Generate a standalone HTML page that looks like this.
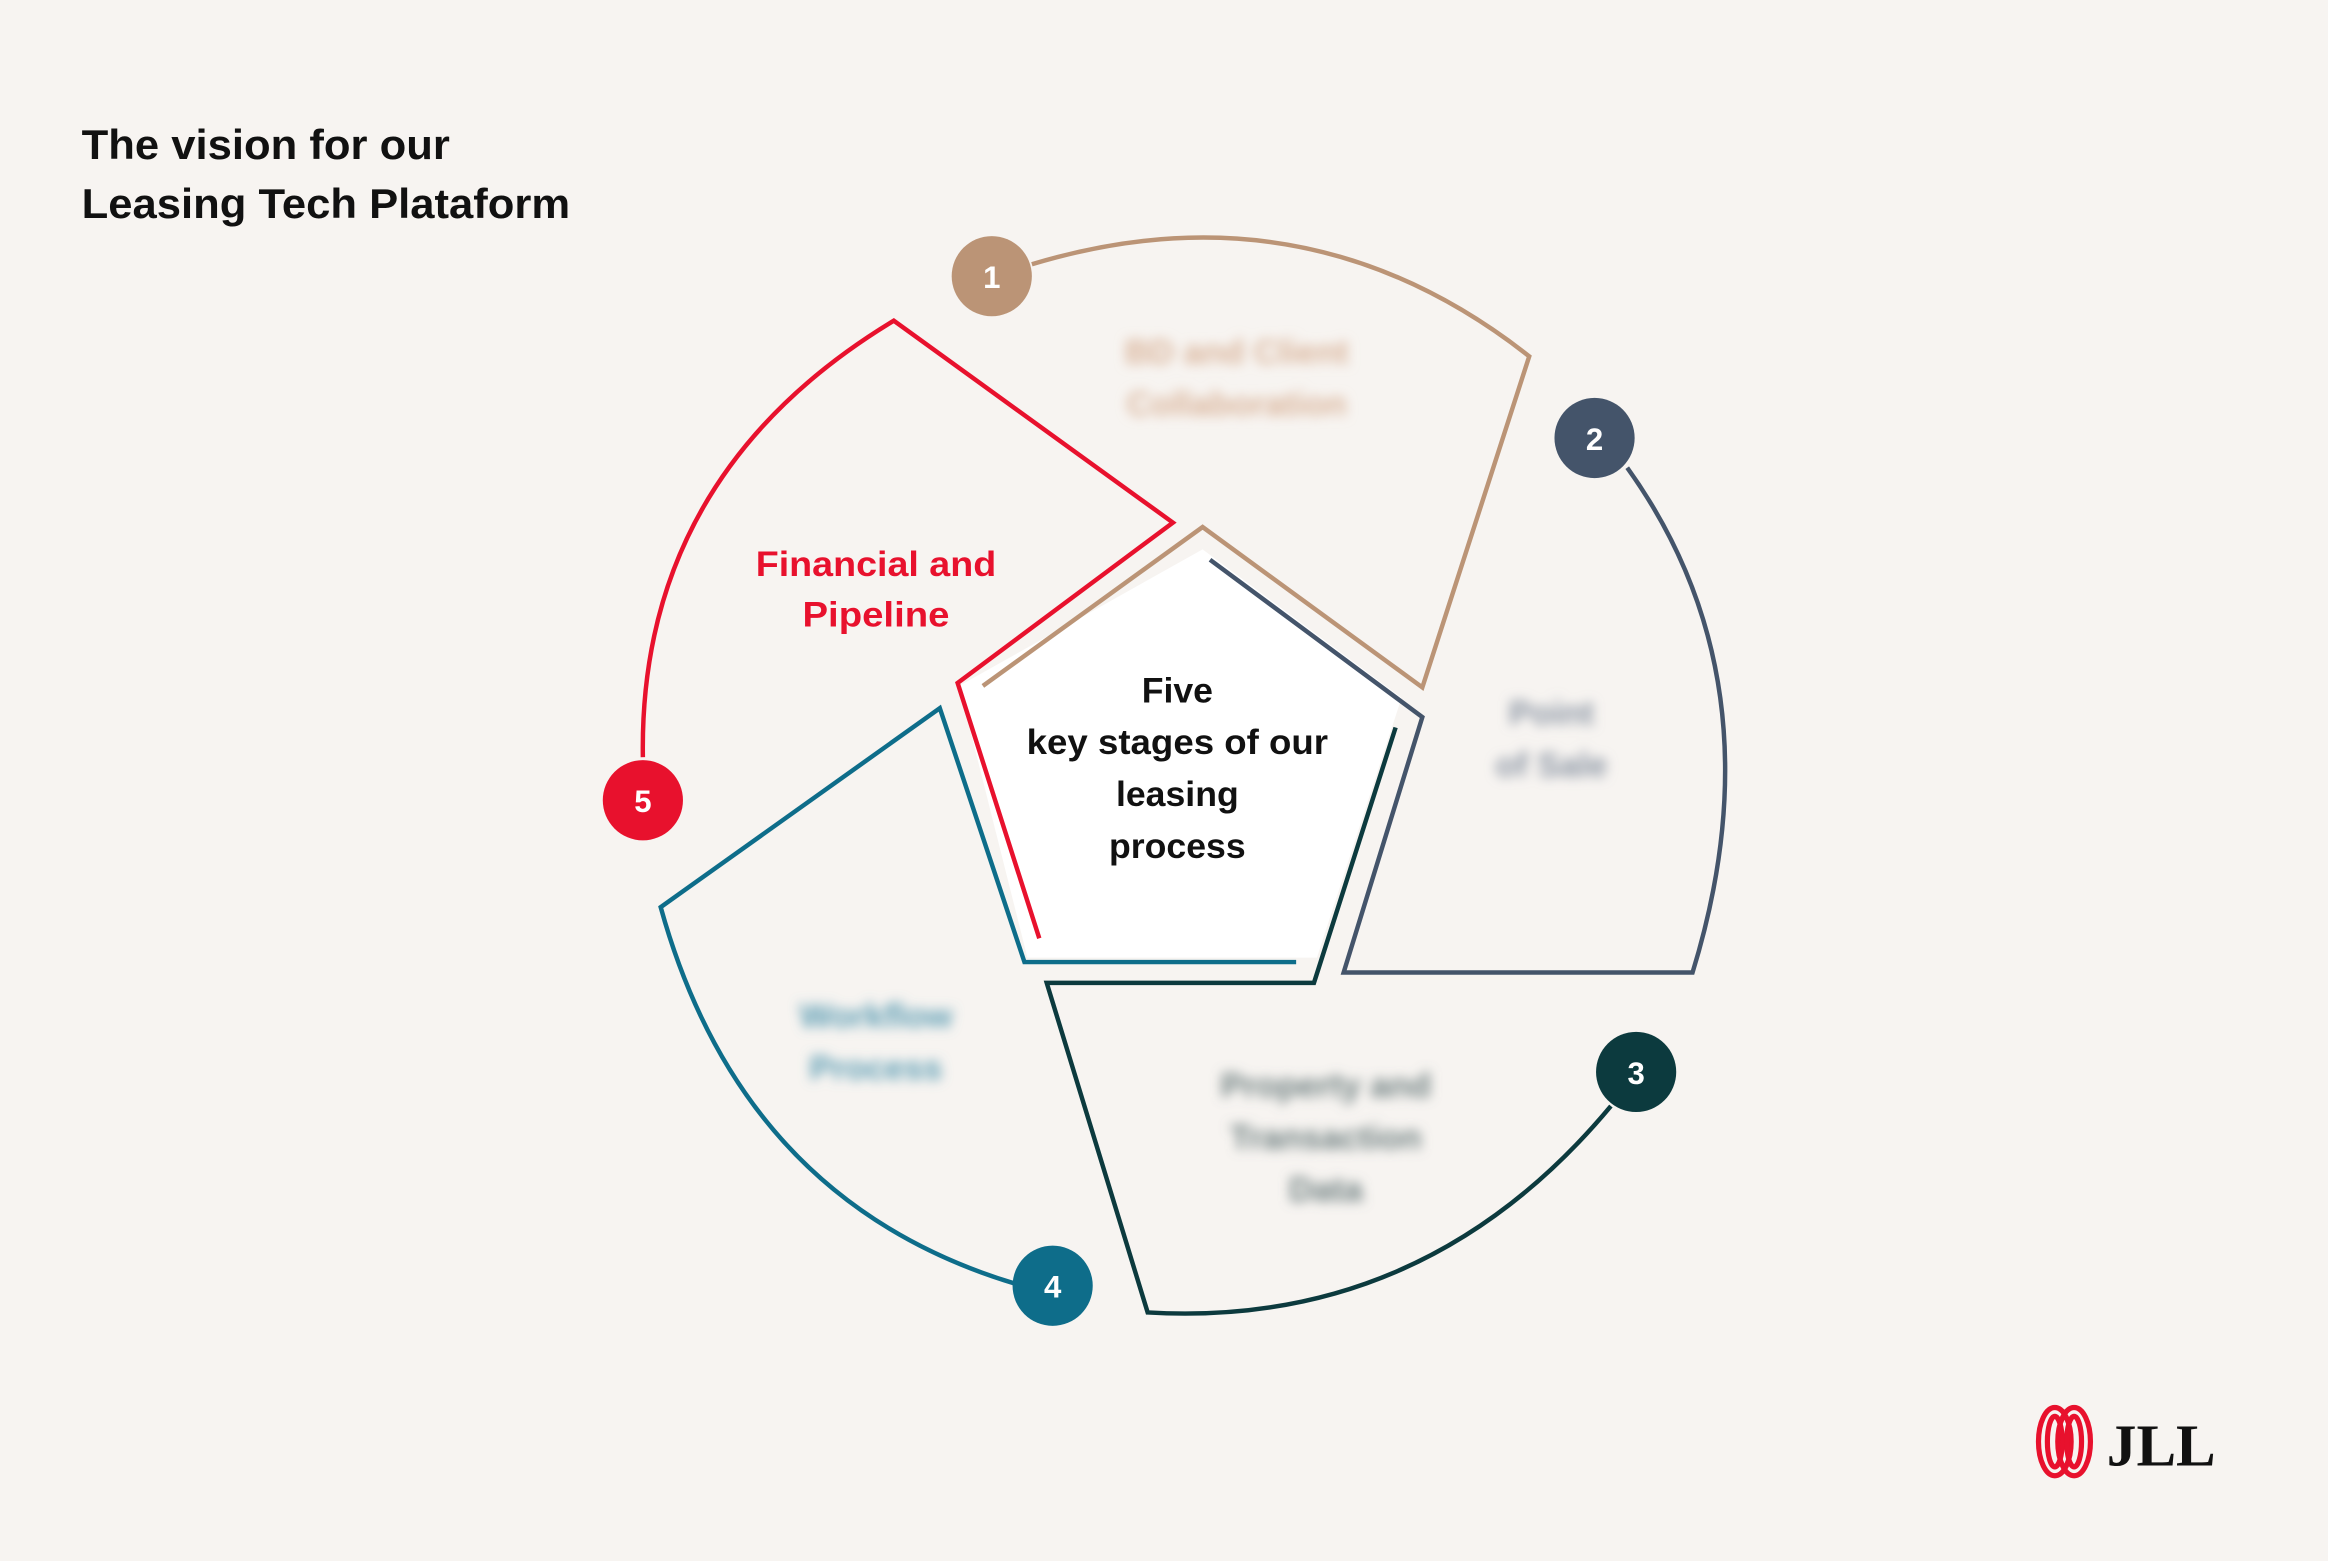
<!DOCTYPE html>
<html><head><meta charset="utf-8"><style>
html,body{margin:0;padding:0;background:#f7f4f1;}
svg{display:block}
text{font-family:"Liberation Sans",sans-serif;font-weight:bold}
</style></head><body>
<svg width="2328" height="1561" viewBox="0 0 1568 1051.4" xmlns="http://www.w3.org/2000/svg">
<defs><filter id="b" x="-20%" y="-50%" width="140%" height="200%"><feGaussianBlur stdDeviation="4"/></filter></defs>
<rect width="1568" height="1052" fill="#f7f4f1"/>
<text x="55" y="107" font-size="28" fill="#111" textLength="248" lengthAdjust="spacingAndGlyphs">The vision for our</text>
<text x="55" y="147" font-size="28" fill="#111" textLength="329" lengthAdjust="spacingAndGlyphs">Leasing Tech Plataform</text>

<polygon points="810,370 944,470 887,645 692,645 646,462" fill="#fff"/>

<g fill="none" stroke-width="3">
<path d="M662,462 L810,355 L958,463 L1030,240 Q880,122 695,178" stroke="#bb9476"/>
<path d="M815,377 L958,483 L905,655 L1140,655 Q1200,460 1096,315" stroke="#44546a"/>
<path d="M940,490 L885,662 L705,662 L773,884 Q960,895 1085,745" stroke="#0c3a3e"/>
<path d="M873,648 L690,648 L633,477 L445,611 Q500,810 685,865" stroke="#0e6d8a"/>
<path d="M700,632 L645,460 L790,352 L602,216 Q430,320 433,510" stroke="#e8112d"/>
</g>

<g font-size="23" text-anchor="middle" filter="url(#b)">
<text x="833" y="245" fill="#d9b49a">BD and Client</text>
<text x="833" y="280" fill="#d9b49a">Collaboration</text>
<text x="1045" y="488" fill="#8a94a3">Point</text>
<text x="1045" y="523" fill="#8a94a3">of Sale</text>
<text x="893" y="739" fill="#6e7f80">Property and</text>
<text x="893" y="774" fill="#6e7f80">Transaction</text>
<text x="893" y="809" fill="#6e7f80">Data</text>
<text x="590" y="692" fill="#5b9cb3">Workflow</text>
<text x="590" y="727" fill="#5b9cb3">Process</text>
</g>
<g font-size="24" text-anchor="middle" fill="#e8112d">
<text x="590" y="388" textLength="162" lengthAdjust="spacingAndGlyphs">Financial and</text>
<text x="590" y="422" textLength="99" lengthAdjust="spacingAndGlyphs">Pipeline</text>
</g>
<g font-size="24" text-anchor="middle" fill="#111">
<text x="793" y="473">Five</text>
<text x="793" y="508" textLength="203" lengthAdjust="spacingAndGlyphs">key stages of our</text>
<text x="793" y="543">leasing</text>
<text x="793" y="578">process</text>
</g>

<g font-size="21" text-anchor="middle" fill="#fff">
<circle cx="668" cy="186" r="27" fill="#bb9476"/><text x="668" y="194">1</text>
<circle cx="1074" cy="295" r="27" fill="#44546a"/><text x="1074" y="303">2</text>
<circle cx="1102" cy="722" r="27" fill="#0c3a3e"/><text x="1102" y="730">3</text>
<circle cx="709" cy="866" r="27" fill="#0e6d8a"/><text x="709" y="874">4</text>
<circle cx="433" cy="539" r="27" fill="#e8112d"/><text x="433" y="547">5</text>
</g>

<g fill="none" stroke="#e8112d" stroke-width="3.5">
<ellipse cx="1384" cy="971" rx="11" ry="23"/>
<ellipse cx="1384" cy="971" rx="5" ry="17"/>
<ellipse cx="1397" cy="971" rx="11" ry="23"/>
<ellipse cx="1397" cy="971" rx="5" ry="17"/>
</g>
<text x="1419" y="987" font-size="40" fill="#111" style="font-family:'Liberation Serif',serif">JLL</text>
</svg>
</body></html>
